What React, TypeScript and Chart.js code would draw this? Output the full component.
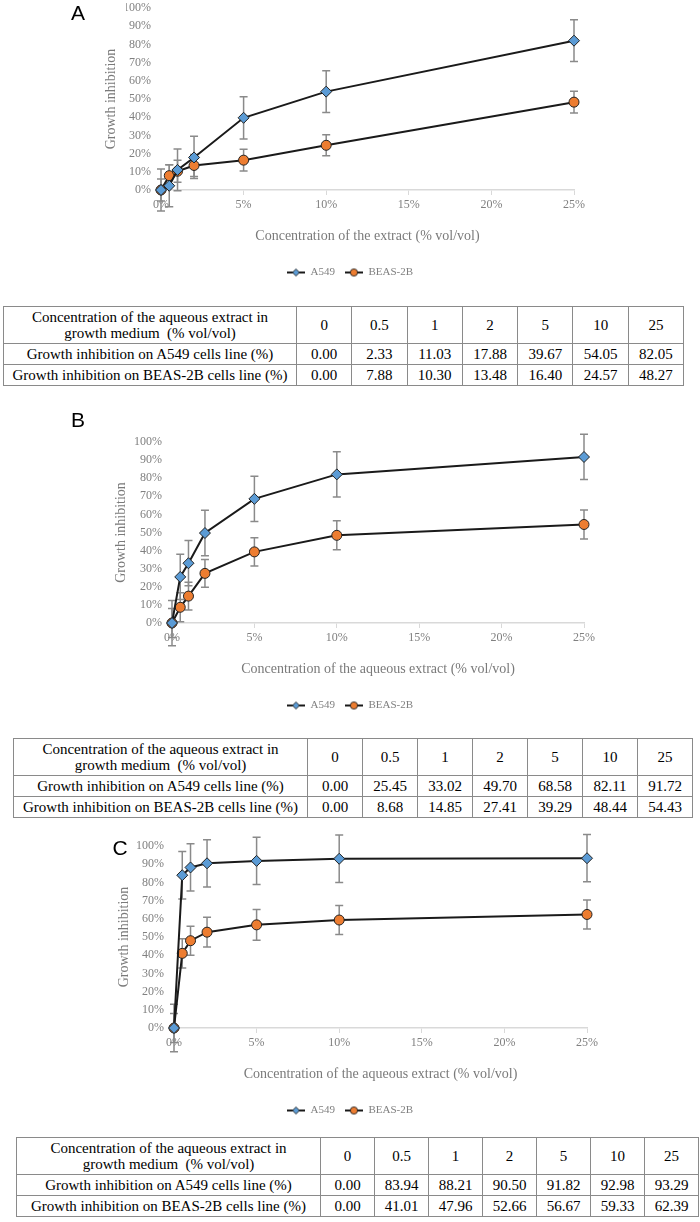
import React, { useEffect, useRef } from 'react';
import { Chart, registerables } from 'chart.js';

Chart.register(...registerables);

// ---------- data ----------
const concentrations = [0, 0.5, 1, 2, 5, 10, 25];
const concentrationLabels = ['0', '0.5', '1', '2', '5', '10', '25'];
const seriesNames = ['A549', 'BEAS-2B'];
const yAxisTitle = 'Growth inhibition';
const tableHeaderLine1 = 'Concentration of the aqueous extract in';
const tableHeaderLine2 = 'growth medium\u00a0 (% vol/vol)';
const tableRowA549 = 'Growth inhibition on A549 cells line (%)';
const tableRowBeas = 'Growth inhibition on BEAS-2B cells line (%)';

// Panel A
const a549A = [0.0, 2.33, 11.03, 17.88, 39.67, 54.05, 82.05];
const beasA = [0.0, 7.88, 10.3, 13.48, 16.4, 24.57, 48.27];
const a549ErrA = [11.5, 11.5, 11.5, 11.6, 11.6, 11.5, 11.5];
const beasErrA = [6, 6, 6, 6, 6, 5.8, 6];
const xTitleA = 'Concentration of the extract (% vol/vol)';

// Panel B
const a549B = [0.0, 25.45, 33.02, 49.7, 68.58, 82.11, 91.72];
const beasB = [0.0, 8.68, 14.85, 27.41, 39.29, 48.44, 54.43];
const a549ErrB = [12.5, 12.5, 12.5, 12.6, 12.5, 12.5, 12.5];
const beasErrB = [8, 8, 7.7, 7.7, 7.8, 8, 8];
const xTitleB = 'Concentration of the aqueous extract (% vol/vol)';

// Panel C
const a549C = [0.0, 83.94, 88.21, 90.5, 91.82, 92.98, 93.29];
const beasC = [0.0, 41.01, 47.96, 52.66, 56.67, 59.33, 62.39];
const a549ErrC = [13, 13, 13, 13, 13, 13, 13];
const beasErrC = [8, 8, 8, 8.2, 8.5, 8, 8];
const xTitleC = 'Concentration of the aqueous extract (% vol/vol)';

// ---------- styles / layout ----------
const PAGE_W = 700;
const PAGE_H = 1222;
const SERIF = '"Liberation Serif", "Times New Roman", serif';
const SANS = '"Liberation Sans", Arial, sans-serif';
const BLUE = '#5B9BD5';
const ORANGE = '#ED7D31';
const LINE = '#1a1a1a';
const MARKER_EDGE = '#222222';
const ERR_COLOR = '#8a8a8a';
const AXIS_LINE = '#d9d9d9';
const TICK_COLOR = '#808080';
const TITLE_COLOR = '#7a7a7a';
const TICK_SIZE = 12;
const TITLE_SIZE = 14;
const LEGEND_SIZE = 11;
const X_AXIS_H = 67;
const LEGEND_H = LEGEND_SIZE + 10 + 10;

type Panel = {
  letter: string;
  letterX: number;
  letterY: number;
  canvasTop: number;
  plotTop: number;
  plotBottom: number;
  plotLeft: number;
  plotRight: number;
  yTitleX: number;
  xTitle: string;
  a549: number[];
  beas: number[];
  a549Err: number[];
  beasErr: number[];
  tableTop: number;
  tableLeft: number;
  firstCol: number;
  col: number;
};

const panels: Panel[] = [
  {
    letter: 'A', letterX: 78, letterY: 13, canvasTop: -30,
    plotTop: 8, plotBottom: 190, plotLeft: 161, plotRight: 574, yTitleX: 111,
    xTitle: xTitleA, a549: a549A, beas: beasA, a549Err: a549ErrA, beasErr: beasErrA,
    tableTop: 306, tableLeft: 3, firstCol: 293, col: 55.3,
  },
  {
    letter: 'B', letterX: 78, letterY: 420, canvasTop: 392,
    plotTop: 442, plotBottom: 623, plotLeft: 172, plotRight: 584, yTitleX: 121,
    xTitle: xTitleB, a549: a549B, beas: beasB, a549Err: a549ErrB, beasErr: beasErrB,
    tableTop: 738, tableLeft: 13, firstCol: 294, col: 55,
  },
  {
    letter: 'C', letterX: 120, letterY: 848, canvasTop: 822,
    plotTop: 846, plotBottom: 1028, plotLeft: 174, plotRight: 587, yTitleX: 124,
    xTitle: xTitleC, a549: a549C, beas: beasC, a549Err: a549ErrC, beasErr: beasErrC,
    tableTop: 1137, tableLeft: 16, firstCol: 304, col: 54,
  },
];

// ---------- error bars plugin ----------
const errorBarPlugin = {
  id: 'errorBars',
  beforeDatasetsDraw(chart: any) {
    const { ctx } = chart;
    const xs = chart.scales.x;
    const ys = chart.scales.y;
    const cap = 4;
    ctx.save();
    ctx.strokeStyle = ERR_COLOR;
    ctx.lineWidth = 1.5;
    chart.data.datasets.forEach((ds: any) => {
      const errs: number[] = ds.errors;
      if (!errs) return;
      ds.data.forEach((p: any, j: number) => {
        const px = xs.getPixelForValue(p.x);
        const top = ys.getPixelForValue(p.y + errs[j]);
        const bot = ys.getPixelForValue(p.y - errs[j]);
        ctx.beginPath();
        ctx.moveTo(px, top);
        ctx.lineTo(px, bot);
        ctx.moveTo(px - cap, top);
        ctx.lineTo(px + cap, top);
        ctx.moveTo(px - cap, bot);
        ctx.lineTo(px + cap, bot);
        ctx.stroke();
      });
    });
    ctx.restore();
  },
};

function makeLegendIcon(kind: 'diamond' | 'circle') {
  const c = document.createElement('canvas');
  c.width = 18;
  c.height = 10;
  const g = c.getContext('2d')!;
  g.strokeStyle = LINE;
  g.lineWidth = 2;
  g.beginPath();
  g.moveTo(0, 5);
  g.lineTo(18, 5);
  g.stroke();
  g.beginPath();
  if (kind === 'diamond') {
    g.moveTo(9, 1.5);
    g.lineTo(12.5, 5);
    g.lineTo(9, 8.5);
    g.lineTo(5.5, 5);
    g.closePath();
    g.fillStyle = BLUE;
  } else {
    g.arc(9, 5, 3.6, 0, Math.PI * 2);
    g.fillStyle = ORANGE;
  }
  g.fill();
  g.lineWidth = 0.9;
  g.strokeStyle = MARKER_EDGE;
  g.stroke();
  return c;
}

function ChartPanel({ spec }: { spec: Panel }) {
  const ref = useRef<HTMLCanvasElement | null>(null);
  const canvasHeight = spec.plotBottom - spec.canvasTop + X_AXIS_H + LEGEND_H;

  useEffect(() => {
    const canvas = ref.current;
    if (!canvas) return;
    const side = PAGE_W - spec.plotRight;
    const yAxisW = spec.plotLeft - side;
    const yTitlePad = spec.yTitleX - side - (TITLE_SIZE * 1.2) / 2;
    const icons = [makeLegendIcon('diamond'), makeLegendIcon('circle')];

    const chart = new Chart(canvas, {
      type: 'line',
      data: {
        datasets: [
          {
            label: seriesNames[0],
            data: concentrations.map((x, i) => ({ x, y: spec.a549[i] })),
            errors: spec.a549Err,
            borderColor: LINE,
            borderWidth: 2,
            pointStyle: 'rectRot',
            pointRadius: 5.5,
            pointBackgroundColor: BLUE,
            pointBorderColor: MARKER_EDGE,
            pointBorderWidth: 1,
            tension: 0,
            clip: false,
          } as any,
          {
            label: seriesNames[1],
            data: concentrations.map((x, i) => ({ x, y: spec.beas[i] })),
            errors: spec.beasErr,
            borderColor: LINE,
            borderWidth: 2,
            pointStyle: 'circle',
            pointRadius: 5,
            pointBackgroundColor: ORANGE,
            pointBorderColor: MARKER_EDGE,
            pointBorderWidth: 1,
            tension: 0,
            clip: false,
          } as any,
        ],
      },
      options: {
        responsive: false,
        animation: false,
        devicePixelRatio: 1,
        layout: {
          padding: { top: spec.plotTop - spec.canvasTop, left: side, right: side, bottom: 0 },
        },
        font: { family: SERIF },
        scales: {
          x: {
            type: 'linear',
            min: 0,
            max: 25,
            afterFit: (s: any) => {
              s.height = X_AXIS_H;
            },
            ticks: {
              stepSize: 5,
              autoSkip: false,
              maxRotation: 0,
              padding: 3,
              color: TICK_COLOR,
              font: { family: SERIF, size: TICK_SIZE },
              callback: (v: any) => `${v}%`,
            },
            grid: {
              display: true,
              drawOnChartArea: false,
              drawTicks: true,
              tickLength: 5,
              color: AXIS_LINE,
              lineWidth: 1,
            },
            border: { display: true, color: AXIS_LINE, width: 1.5 },
            title: {
              display: true,
              text: spec.xTitle,
              color: TITLE_COLOR,
              font: { family: SERIF, size: TITLE_SIZE },
              padding: { top: 0, bottom: 12 },
            },
          },
          y: {
            type: 'linear',
            min: 0,
            max: 100,
            afterFit: (s: any) => {
              s.width = yAxisW;
            },
            ticks: {
              stepSize: 10,
              autoSkip: false,
              padding: 10,
              color: TICK_COLOR,
              font: { family: SERIF, size: TICK_SIZE },
              callback: (v: any) => `${v}%`,
            },
            grid: { display: false, drawTicks: false },
            border: { display: false },
            title: {
              display: true,
              text: yAxisTitle,
              color: TITLE_COLOR,
              font: { family: SERIF, size: TITLE_SIZE },
              padding: { top: yTitlePad, bottom: 0 },
            },
          },
        },
        plugins: {
          tooltip: { enabled: false },
          legend: {
            display: true,
            position: 'bottom',
            labels: {
              usePointStyle: true,
              pointStyleWidth: 18,
              padding: 10,
              color: TICK_COLOR,
              font: { family: SERIF, size: LEGEND_SIZE },
              generateLabels: (ch: any) =>
                ch.data.datasets.map((ds: any, i: number) => ({
                  text: ds.label,
                  pointStyle: icons[i],
                  fontColor: TICK_COLOR,
                  fillStyle: 'transparent',
                  strokeStyle: 'transparent',
                  lineWidth: 0,
                  hidden: false,
                  datasetIndex: i,
                })),
            },
          },
        },
      } as any,
      plugins: [errorBarPlugin],
    });
    return () => chart.destroy();
  }, [spec]);

  return (
    <canvas
      ref={ref}
      width={PAGE_W}
      height={canvasHeight}
      style={{ position: 'absolute', left: 0, top: spec.canvasTop, width: PAGE_W, height: canvasHeight }}
    />
  );
}

function DataTable({ spec }: { spec: Panel }) {
  const cell: React.CSSProperties = {
    border: '1px solid #8a8a8a',
    textAlign: 'center',
    verticalAlign: 'middle',
    padding: 0,
    lineHeight: '16px',
    whiteSpace: 'nowrap',
    overflow: 'hidden',
  };
  const total = spec.firstCol + spec.col * concentrationLabels.length;
  return (
    <table
      style={{
        position: 'absolute',
        left: spec.tableLeft,
        top: spec.tableTop,
        width: total,
        borderCollapse: 'collapse',
        tableLayout: 'fixed',
        fontFamily: SERIF,
        fontSize: 15,
        color: '#000',
      }}
    >
      <colgroup>
        <col style={{ width: spec.firstCol }} />
        {concentrationLabels.map((l) => (
          <col key={l} style={{ width: spec.col }} />
        ))}
      </colgroup>
      <tbody>
        <tr style={{ height: 37 }}>
          <td style={cell}>
            {tableHeaderLine1}
            <br />
            {tableHeaderLine2}
          </td>
          {concentrationLabels.map((l) => (
            <td key={l} style={cell}>{l}</td>
          ))}
        </tr>
        <tr style={{ height: 21 }}>
          <td style={cell}>{tableRowA549}</td>
          {spec.a549.map((v, i) => (
            <td key={i} style={cell}>{v.toFixed(2)}</td>
          ))}
        </tr>
        <tr style={{ height: 21 }}>
          <td style={cell}>{tableRowBeas}</td>
          {spec.beas.map((v, i) => (
            <td key={i} style={cell}>{v.toFixed(2)}</td>
          ))}
        </tr>
      </tbody>
    </table>
  );
}

export default function App() {
  return (
    <div
      style={{
        position: 'absolute',
        left: 0,
        top: 0,
        width: PAGE_W,
        height: PAGE_H,
        background: '#fff',
        overflow: 'hidden',
      }}
    >
      {panels.map((p) => (
        <React.Fragment key={p.letter}>
          <ChartPanel spec={p} />
          <div
            style={{
              position: 'absolute',
              left: p.letterX - 20,
              top: p.letterY - 11,
              width: 40,
              textAlign: 'center',
              fontFamily: SANS,
              fontSize: 21,
              lineHeight: '21px',
              color: '#000',
            }}
          >
            {p.letter}
          </div>
          <DataTable spec={p} />
        </React.Fragment>
      ))}
    </div>
  );
}
